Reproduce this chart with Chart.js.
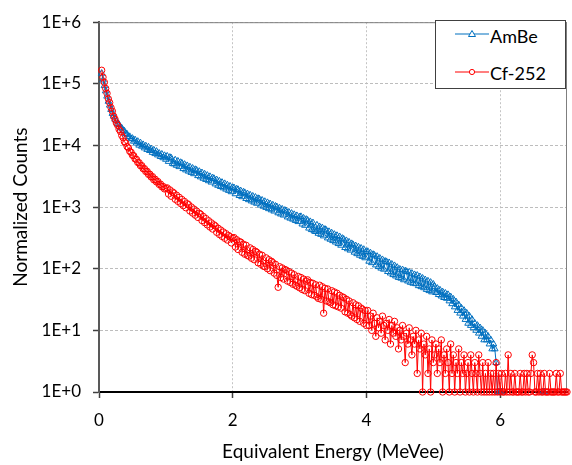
<!DOCTYPE html>
<html>
<head>
<meta charset="utf-8">
<script src="https://cdn.jsdelivr.net/npm/chart.js@4.4.1/dist/chart.umd.min.js"></script>
<style>
html,body{margin:0;padding:0;background:#fff;}
#wrap{position:relative;width:572px;height:465px;}
#legend{position:absolute;left:435px;top:20px;width:129px;height:67px;border:1.5px solid #404040;background:#fff;font-family:Lato,"Open Sans",sans-serif;font-size:18px;color:#000;}
#legend svg{position:absolute;}
#legend span{position:absolute;line-height:20px;white-space:nowrap;}
</style>
</head>
<body>
<div id="wrap">
<canvas id="c" width="572" height="465"></canvas>
<div id="legend">
  <svg style="left:19px;top:3px" width="34" height="20"><line x1="0" y1="10" x2="34" y2="10" stroke="#0070C0" stroke-width="1.2"/><polygon points="17,6.5 20.5,12.5 13.5,12.5" fill="#fff" stroke="#0070C0" stroke-width="1"/></svg>
  <span style="left:54px;top:5px">AmBe</span>
  <svg style="left:19px;top:41px" width="34" height="20"><line x1="0" y1="10" x2="34" y2="10" stroke="#FF0000" stroke-width="1.2"/><circle cx="17" cy="10" r="2.6" fill="#fff" stroke="#FF0000" stroke-width="1"/></svg>
  <span style="left:54px;top:42px">Cf-252</span>
</div>
</div>
<script>
// Energy bins (MeVee)
const energies = [
0.02,0.04,0.06,0.08,0.1,0.12,0.14,0.16,0.18,0.2,0.22,0.24,0.26,0.28,0.3,0.32,0.34,0.36,0.38,0.4,0.42,0.44,0.46,0.48,0.5,0.52,0.54,0.56,0.58,0.6,0.62,0.64,0.66,0.68,0.7,0.72,0.74,0.76,0.78,0.8,0.82,0.84,0.86,0.88,0.9,0.92,0.94,0.96,0.98,1,
1.02,1.04,1.06,1.08,1.1,1.12,1.14,1.16,1.18,1.2,1.22,1.24,1.26,1.28,1.3,1.32,1.34,1.36,1.38,1.4,1.42,1.44,1.46,1.48,1.5,1.52,1.54,1.56,1.58,1.6,1.62,1.64,1.66,1.68,1.7,1.72,1.74,1.76,1.78,1.8,1.82,1.84,1.86,1.88,1.9,1.92,1.94,1.96,1.98,2,
2.02,2.04,2.06,2.08,2.1,2.12,2.14,2.16,2.18,2.2,2.22,2.24,2.26,2.28,2.3,2.32,2.34,2.36,2.38,2.4,2.42,2.44,2.46,2.48,2.5,2.52,2.54,2.56,2.58,2.6,2.62,2.64,2.66,2.68,2.7,2.72,2.74,2.76,2.78,2.8,2.82,2.84,2.86,2.88,2.9,2.92,2.94,2.96,2.98,3,
3.02,3.04,3.06,3.08,3.1,3.12,3.14,3.16,3.18,3.2,3.22,3.24,3.26,3.28,3.3,3.32,3.34,3.36,3.38,3.4,3.42,3.44,3.46,3.48,3.5,3.52,3.54,3.56,3.58,3.6,3.62,3.64,3.66,3.68,3.7,3.72,3.74,3.76,3.78,3.8,3.82,3.84,3.86,3.88,3.9,3.92,3.94,3.96,3.98,4,
4.02,4.04,4.06,4.08,4.1,4.12,4.14,4.16,4.18,4.2,4.22,4.24,4.26,4.28,4.3,4.32,4.34,4.36,4.38,4.4,4.42,4.44,4.46,4.48,4.5,4.52,4.54,4.56,4.58,4.6,4.62,4.64,4.66,4.68,4.7,4.72,4.74,4.76,4.78,4.8,4.82,4.84,4.86,4.88,4.9,4.92,4.94,4.96,4.98,5,
5.02,5.04,5.06,5.08,5.1,5.12,5.14,5.16,5.18,5.2,5.22,5.24,5.26,5.28,5.3,5.32,5.34,5.36,5.38,5.4,5.42,5.44,5.46,5.48,5.5,5.52,5.54,5.56,5.58,5.6,5.62,5.64,5.66,5.68,5.7,5.72,5.74,5.76,5.78,5.8,5.82,5.84,5.86,5.88,5.9,5.92,5.94,5.96,5.98,6,
6.02,6.04,6.06,6.08,6.1,6.12,6.14,6.16,6.18,6.2,6.22,6.24,6.26,6.28,6.3,6.32,6.34,6.36,6.38,6.4,6.42,6.44,6.46,6.48,6.5,6.52,6.54,6.56,6.58,6.6,6.62,6.64,6.66,6.68,6.7,6.72,6.74,6.76,6.78,6.8,6.82,6.84,6.86,6.88,6.9,6.92,6.94,6.96,6.98,7
];
const ambe = [
null,148000,115000,93000,76500,63000,52000,45000,38300,33000,29800,26700,24900,22500,21800,19600,19100,17500,17100,15500,15200,13800,13900,12800,13000,11700,12300,10900,11600,10100,11000,9700,10300,9100,9800,8600,9400,8250,8800,7700,8400,7350,8000,7000,7450,6600,7200,6300,6850,5950,
6700,5500,6400,6250,5100,5000,5800,4750,5550,4520,5280,5150,4200,4920,4000,4690,3820,4470,3640,4260,3470,4060,3960,3230,3780,3080,3600,2930,3430,2800,3270,2670,3120,2540,2970,2900,2370,2770,2250,2640,2150,2510,2050,2400,1950,2280,1860,2180,1770,2070,
2050,1640,1960,1920,1535,1830,1470,1750,1715,1375,1640,1315,1570,1255,1500,1200,1440,1150,1375,1345,1075,1290,1030,1230,985,1180,940,1130,900,1080,860,1030,1010,805,965,770,925,740,885,865,690,825,660,790,635,755,605,725,580,695,
700,530,660,505,630,610,455,580,430,555,410,400,510,375,480,360,460,340,435,420,315,400,300,380,285,360,270,345,255,330,240,310,300,220,285,210,270,200,255,245,185,235,175,225,165,215,158,205,150,190,
190,132,180,125,170,165,115,158,108,148,102,140,98,132,130,90,125,85,118,80,112,76,105,72,98,70,96,66,92,90,63,88,60,84,58,80,57,78,53,74,51,70,49,66,46,63,44,60,42,56,
51,41,48,38,45,36,42,34,40,33,38,30,35,27,32,24,29,21,26,19,23,17,21,15,19,13,17,12,15,11,13,10,12,9,11,8,10,7,9,7,8,6,7,5,6,5,3,1,1,1,
1,null,null,null,null,null,null,null,null,null,null,null,null,null,null,null,null,null,null,null,null,null,null,null,null,null,null,null,null,null,null,1,1,null,null,null,null,null,null,null,null,null,null,null,null,null,null,null,null,null
];
const cf252 = [
null,166000,128000,106000,84000,70000,57000,49500,41000,36000,29800,26600,23100,21200,18300,16900,14600,13400,11500,10900,9600,9100,8050,7750,6950,6800,6050,5950,5300,5250,4700,4700,4200,4200,3780,3800,3400,3420,3080,3120,2770,2830,2560,2600,2330,2360,2130,2160,1970,2010,
2050,1630,1900,1500,1760,1690,1340,1560,1240,1440,1145,1330,1055,1230,975,1135,1095,865,1005,800,930,740,860,680,795,765,605,705,560,650,515,600,475,555,440,515,495,390,455,360,425,335,395,312,370,292,345,330,262,312,
320,225,295,205,275,270,185,250,172,240,165,160,218,148,205,140,192,185,125,172,118,165,110,108,150,100,140,93,132,125,85,118,78,50,108,72,103,68,97,95,63,90,60,85,56,80,54,52,75,49,
72,46,68,44,63,66,40,60,38,58,37,55,35,33,54,32,51,19,48,30,47,29,28,44,26,42,25,40,24,37,23,35,34,20,32,19,30,18,17,28,16,26,15,25,14,23,22,13,21,12,
21,12,17,10,19,13,8,16,11,14,9,17,12,7,13,10,15,6,12,9,14,8,11,5,10,7,12,8,3,9,6,11,7,4,8,6,10,2,7,5,9,1,6,4,8,2,5,1,7,3,
4,6,2,5,3,7,1,4,2,5,3,1,6,2,4,1,3,2,5,1,3,2,4,1,2,3,1,4,2,1,3,2,1,4,2,1,3,1,2,1,3,1,2,1,2,1,3,1,2,1,
2,1,1,2,1,4,1,2,1,1,2,1,1,1,2,1,1,2,1,2,1,1,2,4,3,1,1,2,1,2,1,1,2,1,1,1,2,1,1,1,1,2,1,1,2,1,1,1,1,1
];
const seriesNames = ['AmBe', 'Cf-252'];
const yTickValues = [1, 10, 100, 1000, 10000, 100000, 1000000];
const xTickValues = [0, 2, 4, 6];

function toPoints(ys) { return energies.map((x, i) => ({ x: x, y: ys[i] })); }

const FONT = 'Lato, "Open Sans", sans-serif';

const framePlugin = {
  id: 'frame',
  beforeDatasetsDraw(chart) {
    const a = chart.chartArea, ctx = chart.ctx;
    ctx.save();
    ctx.strokeStyle = '#7f7f7f';
    ctx.lineWidth = 1;
    ctx.beginPath();
    ctx.moveTo(a.left, a.top + 0.5);
    ctx.lineTo(a.right, a.top + 0.5);
    ctx.moveTo(a.right - 0.5, a.top);
    ctx.lineTo(a.right - 0.5, a.bottom);
    ctx.stroke();
    ctx.restore();
  }
};

new Chart(document.getElementById('c'), {
  type: 'line',
  data: {
    datasets: [
      {
        label: seriesNames[0],
        data: toPoints(ambe),
        borderColor: '#0070C0',
        backgroundColor: 'rgba(255,255,255,0)',
        borderWidth: 1,
        pointStyle: 'triangle',
        pointRadius: 3.8,
        pointBorderWidth: 1,
        pointBorderColor: '#0070C0',
        pointBackgroundColor: 'rgba(255,255,255,0)',
        tension: 0,
        clip: false,
        order: 1
      },
      {
        label: seriesNames[1],
        data: toPoints(cf252),
        borderColor: '#FF0000',
        backgroundColor: 'rgba(255,255,255,0)',
        borderWidth: 1,
        pointStyle: 'circle',
        pointRadius: 3.2,
        pointBorderWidth: 1,
        pointBorderColor: '#FF0000',
        pointBackgroundColor: 'rgba(255,255,255,0)',
        tension: 0,
        clip: false,
        order: 0
      }
    ]
  },
  options: {
    responsive: false,
    animation: false,
    layout: { padding: { top: 16, right: 1, left: 0, bottom: 0 } },
    plugins: { legend: { display: false }, tooltip: { enabled: false } },
    scales: {
      x: {
        type: 'linear',
        min: 0,
        max: 7,
        afterBuildTicks: (s) => { s.ticks = xTickValues.map(v => ({ value: v })); },
        afterFit: (s) => { s.height = 73; },
        ticks: { font: { family: FONT, size: 17 }, color: '#000', padding: 12, maxRotation: 0 },
        grid: {
          color: (c) => (c.tick && c.tick.value === 0) ? 'rgba(0,0,0,0)' : '#c4c4c4',
          lineWidth: 1,
          drawTicks: true,
          tickLength: 6,
          tickColor: '#404040',
          tickWidth: 1.5,
          tickBorderDash: []
        },
        border: { display: true, color: '#000', width: 2, dash: [2, 2] },
        title: { display: true, text: 'Equivalent Energy (MeVee)', font: { family: FONT, size: 19 }, color: '#000', padding: { top: 0, bottom: 2 } }
      },
      y: {
        type: 'logarithmic',
        min: 1,
        max: 1000000,
        afterBuildTicks: (s) => { s.ticks = yTickValues.map(v => ({ value: v })); },
        afterFit: (s) => { s.width = 99; },
        ticks: {
          font: { family: FONT, size: 17 }, color: '#000', padding: 12,
          callback: (v) => '1E+' + Math.round(Math.log10(v))
        },
        grid: {
          color: (c) => (c.tick && (c.tick.value === 1)) ? 'rgba(0,0,0,0)' : '#bdbdbd',
          lineWidth: 1,
          drawTicks: true,
          tickLength: 6,
          tickColor: '#404040',
          tickWidth: 1.5,
          tickBorderDash: []
        },
        border: { display: true, color: '#595959', width: 2, dash: [3, 2] },
        title: { display: true, text: 'Normalized Counts', font: { family: FONT, size: 19 }, color: '#000', padding: { top: 9, bottom: 0 } }
      }
    }
  },
  plugins: [framePlugin]
});
</script>
</body>
</html>
